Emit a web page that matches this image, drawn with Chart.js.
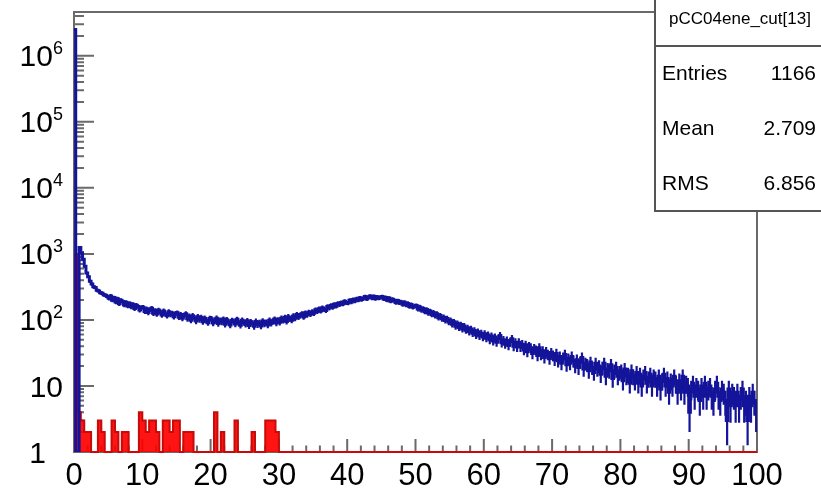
<!DOCTYPE html>
<html>
<head>
<meta charset="utf-8">
<script src="https://cdn.jsdelivr.net/npm/chart.js@4/dist/chart.umd.min.js"></script>
<style>
  html, body { margin: 0; padding: 0; background: #fff; }
</style>
</head>
<body>
<canvas id="histo" width="821" height="500"></canvas>
<script>
// blue histogram: bins of 0.25 from 0 to 100, one row = 5 units
const blueBinWidth = 0.25;
const blueCounts = [
  2500000, 0, 0, 1250, 1040, 830, 650, 515, 450, 385, 350, 318, 310, 282, 275, 258, 254, 240, 236, 226,
  212, 231, 199, 218, 186, 210, 176, 199, 190, 168, 185, 163, 179, 158, 172, 149, 167, 160, 141, 155,
  156, 134, 148, 129, 144, 150, 126, 139, 123, 141, 132, 119, 137, 124, 116, 133, 121, 127, 112, 125,
  128, 110, 121, 106, 117, 124, 104, 114, 99, 116, 108, 96, 112, 101, 109, 94, 106, 98, 91, 105,
  104, 90, 97, 106, 88, 99, 93, 103, 86, 101, 92, 84, 98, 95, 87, 102, 90, 83, 99, 92,
  86, 97, 82, 94, 89, 80, 95, 85, 91, 81, 96, 87, 92, 84, 99, 89, 95, 103, 90, 100,
  92, 106, 98, 109, 95, 112, 104, 99, 115, 106, 121, 110, 118, 124, 111, 128, 119, 131, 122, 133,
  126, 142, 134, 148, 137, 153, 145, 139, 160, 151, 166, 155, 172, 161, 178, 170, 184, 174, 191, 182,
  180, 198, 187, 204, 193, 210, 199, 216, 203, 212, 226, 207, 221, 230, 214, 228, 209, 224, 213, 220,
  226, 207, 219, 199, 214, 192, 206, 198, 184, 196, 181, 189, 172, 185, 168, 178, 160, 171, 156, 163,
  165, 146, 157, 140, 149, 133, 144, 127, 136, 121, 130, 116, 124, 108, 117, 104, 110, 98, 105, 93,
  99, 86, 94, 80, 89, 77, 85, 73, 81, 70, 76, 66, 73, 63, 69, 59, 66, 57, 63, 55,
  62, 53, 59, 50, 57, 48, 55, 46, 52, 58, 45, 50, 43, 49, 41, 47, 52, 40, 46, 39,
  46, 39, 43, 35, 42, 33, 40, 38, 31, 37, 35, 29, 38, 30, 34, 27, 33, 30, 26, 32,
  29, 25, 31, 24, 28, 22, 27, 30, 21, 26, 22, 28, 24, 20, 25, 19, 23, 27, 18, 22,
  21, 17, 23, 19, 16, 22, 18, 20, 15, 19, 22, 14, 18, 17, 21, 13, 17, 19, 14, 16,
  17, 12, 18, 14, 15, 11, 17, 14, 12, 16, 11, 15, 10, 14, 16, 11, 13, 15, 10, 14,
  13, 10, 14, 9, 12, 15, 10, 13, 8, 12, 10, 14, 11, 8, 12, 9, 14, 8, 11, 10,
  4, 9, 11, 7, 10, 9, 6, 10, 7, 11, 7, 9, 10, 7, 6, 9, 11, 7, 6, 9,
  8, 6, 3, 9, 5, 8, 7, 5, 8, 5, 7, 9, 5, 6, 3, 7, 5, 8, 6, 4
];

// red histogram (cut): bins of 0.5 from 0 to 31, empty above
const redBinWidth = 0.5;
const redCounts = [
  1000, 4, 3, 2, 2, 1, 1, 3, 2, 1, 1, 3, 2, 1, 2, 2, 1, 1, 1, 4,
  3, 2, 3, 3, 2, 1, 3, 3, 2, 3, 3, 1, 2, 2, 2, 1, 1, 1, 1, 1,
  1, 4, 1, 2, 1, 1, 1, 3, 1, 1, 1, 1, 2, 1, 1, 1, 3, 3, 3, 2,
  1, 1
];

const xMin = 0, xMax = 100;
const yMin = 1, yMax = 4.6e6;
const xTicks = [0, 10, 20, 30, 40, 50, 60, 70, 80, 90, 100];
const xMinorStep = 2;
const yTickExps = [0, 1, 2, 3, 4, 5, 6];

const statTitle = 'pCC04ene_cut[13]';
const statNames = ['Entries', 'Mean', 'RMS'];
const statValues = ['1166', '2.709', '6.856'];

const BLUE = '#14149a';
const FONT = '"Liberation Sans", Arial, Helvetica, sans-serif';

// histogram -> stepped points (left edges + closing right edge)
function toSteps(counts, width, until) {
  const pts = counts.map((c, i) => ({ x: i * width, y: c > yMin ? c : yMin }));
  const end = counts.length * width;
  pts.push({ x: end, y: pts[pts.length - 1].y });
  if (until > end) {
    pts.push({ x: end, y: yMin });
    pts.push({ x: until, y: yMin });
  }
  return pts;
}

const rootDecor = {
  id: 'rootDecor',
  beforeDatasetsDraw(chart) {
    const { ctx, chartArea: a, scales: { x, y } } = chart;
    ctx.save();
    ctx.strokeStyle = '#6a6a6a';
    ctx.lineWidth = 2;
    ctx.strokeRect(a.left, a.top, a.right - a.left, a.bottom - a.top);
    ctx.beginPath();
    for (let v = xMin; v <= xMax; v += xMinorStep) {
      const px = x.getPixelForValue(v);
      const len = xTicks.includes(v) ? 13 : 6.5;
      ctx.moveTo(px, a.bottom);
      ctx.lineTo(px, a.bottom - len);
    }
    yTickExps.forEach(e => {
      for (let m = 1; m <= 9; m++) {
        const v = m * Math.pow(10, e);
        if (v > yMax) break;
        const py = y.getPixelForValue(v);
        ctx.moveTo(a.left, py);
        ctx.lineTo(a.left + (m === 1 ? 20 : 10), py);
      }
    });
    ctx.stroke();
    ctx.restore();
  },
  afterDatasetsDraw(chart) {
    const { ctx, chartArea: a, scales: { x, y } } = chart;
    // error bars of the blue histogram
    ctx.save();
    ctx.beginPath();
    ctx.rect(a.left, a.top, a.right - a.left, a.bottom - a.top);
    ctx.clip();
    ctx.strokeStyle = BLUE;
    ctx.lineWidth = 2.2;
    ctx.beginPath();
    blueCounts.forEach((c, i) => {
      if (c <= 0) return;
      const err = Math.sqrt(c);
      const px = x.getPixelForValue((i + 0.5) * blueBinWidth);
      ctx.moveTo(px, y.getPixelForValue(Math.max(c - err, yMin)));
      ctx.lineTo(px, y.getPixelForValue(c + err));
    });
    ctx.stroke();
    ctx.restore();
  },
  afterDraw(chart) {
    const { ctx, scales: { y } } = chart;
    ctx.save();
    // y labels, ROOT style 10^n
    ctx.fillStyle = '#000';
    ctx.textBaseline = 'middle';
    ctx.textAlign = 'right';
    yTickExps.forEach(e => {
      const py = y.getPixelForValue(Math.pow(10, e));
      if (e === 0) {
        ctx.font = '30px ' + FONT;
        ctx.fillText('1', 46, py + 3);
      } else if (e === 1) {
        ctx.font = '30px ' + FONT;
        ctx.fillText('10', 63, py + 3);
      } else {
        ctx.font = '18px ' + FONT;
        const ew = ctx.measureText(String(e)).width;
        ctx.fillText(String(e), 63, py - 7);
        ctx.font = '30px ' + FONT;
        ctx.fillText('10', 63 - ew, py + 2);
      }
    });
    // stats box
    const bx = 655, by = -4, bw = 180, bh = 215;
    ctx.fillStyle = '#fff';
    ctx.fillRect(bx, by, bw, bh);
    ctx.strokeStyle = '#555';
    ctx.lineWidth = 2;
    ctx.strokeRect(bx, by, bw, bh);
    ctx.beginPath();
    ctx.moveTo(bx, 46);
    ctx.lineTo(bx + bw, 46);
    ctx.stroke();
    ctx.fillStyle = '#000';
    ctx.textAlign = 'center';
    ctx.font = '17px ' + FONT;
    ctx.fillText(statTitle, 740, 19);
    ctx.font = '21px ' + FONT;
    statNames.forEach((n, i) => {
      const ry = 74 + i * 55;
      ctx.textAlign = 'left';
      ctx.fillText(n, 662, ry);
      ctx.textAlign = 'right';
      ctx.fillText(statValues[i], 816, ry);
    });
    ctx.restore();
  }
};

new Chart(document.getElementById('histo'), {
  type: 'line',
  data: {
    datasets: [
      {
        label: 'all',
        data: toSteps(blueCounts, blueBinWidth, xMax),
        stepped: true,
        borderColor: BLUE,
        borderWidth: 3,
        pointRadius: 0,
        fill: false
      },
      {
        label: 'cut',
        data: toSteps(redCounts, redBinWidth, xMax),
        stepped: true,
        borderColor: '#c80a0a',
        borderWidth: 2,
        backgroundColor: 'rgba(255,0,0,0.92)',
        pointRadius: 0,
        fill: 'start',
        clip: false
      }
    ]
  },
  options: {
    responsive: false,
    animation: false,
    devicePixelRatio: 1,
    layout: { padding: { top: 12, right: 64, left: 0, bottom: 0 } },
    plugins: { legend: { display: false }, tooltip: { enabled: false } },
    scales: {
      x: {
        type: 'linear',
        min: xMin,
        max: xMax,
        grid: { display: false, drawTicks: false },
        border: { display: false },
        afterFit: s => { s.height = 48; },
        afterBuildTicks: s => { s.ticks = xTicks.map(v => ({ value: v })); },
        ticks: {
          autoSkip: false,
          maxRotation: 0,
          padding: 6,
          color: '#000',
          font: { family: FONT, size: 31 }
        }
      },
      y: {
        type: 'logarithmic',
        min: yMin,
        max: yMax,
        grid: { display: false, drawTicks: false },
        border: { display: false },
        ticks: { display: false },
        afterFit: s => { s.width = 74; }
      }
    }
  },
  plugins: [rootDecor]
});
</script>
</body>
</html>
